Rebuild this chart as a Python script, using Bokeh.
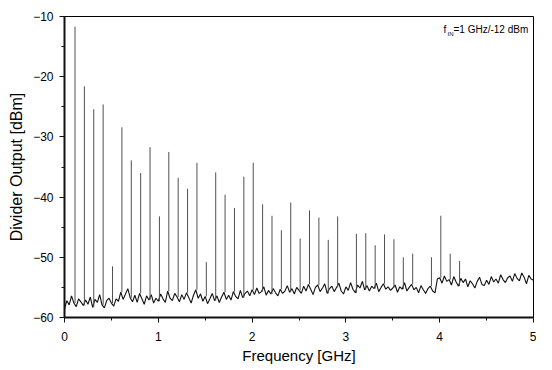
from bokeh.plotting import figure
from bokeh.models import Range1d, FixedTicker, Label
from bokeh.embed import file_html
from bokeh.resources import INLINE

noise_step_ghz = 0.025
noise_dbm = [
    -58.6, -57.2, -57.9, -56.4, -57.6, -58.2, -56.9, -57.4, -58.0, -57.1,
    -57.8, -56.6, -58.3, -57.0, -57.5, -56.2, -57.9, -58.4, -57.2, -56.8,
    -57.6, -58.1, -56.9, -57.3, -55.8, -57.0, -56.1, -55.2, -56.7, -57.4,
    -56.3, -57.5, -56.0, -56.9, -57.8, -56.4, -57.1, -56.2, -57.6, -56.8,
    -57.3, -56.1, -56.9, -57.5, -55.6, -56.8, -57.2, -56.0, -56.6, -57.4,
    -56.2, -57.0, -55.9, -56.7, -57.6, -56.3, -55.4, -56.8, -56.1, -57.3,
    -56.5, -57.7, -56.9, -56.0, -57.2, -56.4, -57.5, -56.6, -55.8, -57.0,
    -56.3, -57.1, -55.7, -56.5, -56.9, -55.5, -56.7, -56.0, -55.6, -56.4,
    -55.4, -56.2, -55.1, -56.0, -55.7, -54.9, -56.3, -55.5, -56.1, -55.2,
    -55.9, -56.4, -55.3, -56.0, -55.6, -54.7, -55.8, -55.2, -56.1, -55.0,
    -55.5, -56.0, -54.8, -55.6, -54.5, -55.3, -56.2, -55.0, -54.6, -55.7,
    -55.1, -54.4, -56.0, -55.2, -54.8, -55.7, -55.0, -54.3, -55.6, -56.1,
    -54.9, -55.5, -54.2, -55.3, -55.9, -54.6, -55.1, -54.0, -55.4, -54.7,
    -55.6, -54.8, -55.2, -54.3, -55.7, -55.0, -54.4, -55.3, -54.9, -55.5,
    -55.1, -54.6, -55.8, -54.9, -55.3, -54.2, -55.6, -55.0, -54.5, -55.4,
    -55.0, -55.9, -54.7, -55.4, -56.0, -55.2, -54.8, -55.6, -55.9, -53.6,
    -53.4, -54.3, -53.1, -54.0, -53.7, -54.6, -53.2, -54.1, -54.8, -53.5,
    -54.2, -53.6, -54.9, -53.9, -54.4, -55.1, -54.0, -53.3, -54.5, -54.7,
    -53.8, -54.5, -53.2, -54.1, -53.6, -54.3, -52.9, -53.7, -54.2, -53.4,
    -53.1, -54.0, -52.7, -53.5, -53.9, -52.6, -53.3, -54.4, -53.0, -53.6,
    -53.8,
]
noise_freq = [round(i * noise_step_ghz, 4) for i in range(len(noise_dbm))]

# Harmonic spurs (GHz, dBm)
peak_freq = [
    0.112, 0.212, 0.312, 0.412, 0.512, 0.612, 0.712, 0.812, 0.912, 1.012,
    1.112, 1.212, 1.312, 1.412, 1.512, 1.612, 1.712, 1.812, 1.912, 2.012,
    2.112, 2.212, 2.312, 2.412, 2.512, 2.612, 2.712, 2.812, 2.912, 3.112,
    3.212, 3.312, 3.412, 3.512, 3.612, 3.712, 3.912, 4.012, 4.112, 4.212,
]
peak_dbm = [
    -11.7, -21.6, -25.4, -24.6, -51.5, -28.4, -33.9, -36.0, -31.7, -43.2,
    -32.5, -36.8, -38.6, -34.3, -50.8, -35.9, -39.6, -41.8, -36.6, -34.3,
    -41.2, -43.1, -45.5, -40.9, -46.9, -42.2, -43.4, -47.1, -43.2, -46.1,
    -46.0, -48.0, -46.2, -47.0, -50.0, -49.4, -50.0, -43.1, -49.4, -50.6,
]

x_ticks = [0, 1, 2, 3, 4, 5]
x_minor = [0.5, 1.5, 2.5, 3.5, 4.5]
y_ticks = [-60, -50, -40, -30, -20, -10]
y_minor = [-55, -45, -35, -25, -15]

# spur base = noise value at nearest sample
peak_base = [noise_dbm[int(round(f / noise_step_ghz))] for f in peak_freq]

FONT = "Liberation Sans"

p = figure(width=536, height=366, output_backend="svg", toolbar_location=None,
           x_range=Range1d(0, 5), y_range=Range1d(-60, -10),
           min_border_left=64, min_border_right=3, min_border_top=16, min_border_bottom=49)
p.background_fill_color = "white"
p.border_fill_color = "white"
p.outline_line_color = "black"
p.outline_line_width = 1
p.grid.visible = False

p.line(noise_freq, noise_dbm, line_color="#111111", line_width=1.1)
p.segment(x0=peak_freq, y0=peak_base, x1=peak_freq, y1=peak_dbm,
          line_color="#505050", line_width=1)

for ax in (p.xaxis[0], p.yaxis[0]):
    ax.axis_line_width = 2
    ax.axis_line_color = "#111111"
    ax.major_tick_line_color = "#111111"
    ax.minor_tick_line_color = "#111111"
    ax.major_tick_out = 5
    ax.major_tick_in = 0
    ax.minor_tick_out = 3
    ax.minor_tick_in = 0
    ax.major_label_text_font = FONT
    ax.major_label_text_font_size = "12px"
    ax.major_label_text_color = "black"
    ax.axis_label_text_font = FONT
    ax.axis_label_text_font_style = "normal"
    ax.axis_label_text_color = "black"

p.xaxis.major_label_standoff = 9
p.yaxis.major_label_standoff = 6
p.xaxis.ticker = FixedTicker(ticks=x_ticks, minor_ticks=x_minor)
p.yaxis.ticker = FixedTicker(ticks=y_ticks, minor_ticks=y_minor)
p.xaxis.axis_label = "Frequency [GHz]"
p.xaxis.axis_label_text_font_size = "15px"
p.xaxis.axis_label_standoff = 3
p.yaxis.axis_label = "Divider Output [dBm]"
p.yaxis.axis_label_text_font_size = "16px"
p.yaxis.axis_label_standoff = 5

# annotation f_IN=1 GHz/-12 dBm
p.add_layout(Label(x=379, y=283, x_units="screen", y_units="screen", text="f",
                   text_font=FONT, text_font_size="10px", text_color="black"))
p.add_layout(Label(x=383, y=281, x_units="screen", y_units="screen", text="IN",
                   text_font=FONT, text_font_size="6px", text_color="black"))
p.add_layout(Label(x=389, y=283, x_units="screen", y_units="screen", text="=1 GHz/-12 dBm",
                   text_font=FONT, text_font_size="10px", text_color="black"))

open("out.html", "w").write(file_html(p, INLINE))
